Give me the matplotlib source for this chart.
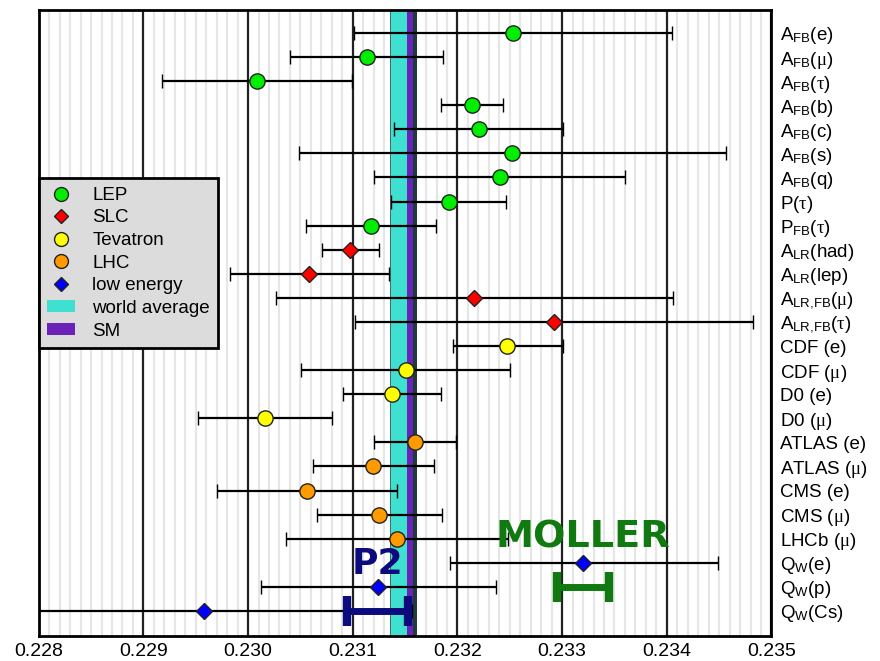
import matplotlib
matplotlib.use("Agg")
import matplotlib.pyplot as plt
from matplotlib.lines import Line2D
from matplotlib.patches import Patch
from matplotlib.ticker import MultipleLocator

plt.rcParams['font.family'] = ['Liberation Sans', 'DejaVu Sans']
plt.rcParams['mathtext.fontset'] = 'custom'
plt.rcParams['mathtext.rm'] = 'Liberation Sans'
plt.rcParams['mathtext.it'] = 'Liberation Serif'
plt.rcParams['mathtext.bf'] = 'Liberation Sans:bold'

# measurements of sin^2(theta_eff), top to bottom
labels = ['A$_{\\rm FB}$(e)', 'A$_{\\rm FB}$($\\mu$)', 'A$_{\\rm FB}$($\\tau$)',
          'A$_{\\rm FB}$(b)', 'A$_{\\rm FB}$(c)', 'A$_{\\rm FB}$(s)', 'A$_{\\rm FB}$(q)',
          'P($\\tau$)', 'P$_{\\rm FB}$($\\tau$)', 'A$_{\\rm LR}$(had)', 'A$_{\\rm LR}$(lep)',
          'A$_{\\rm LR{,}FB}$($\\mu$)', 'A$_{\\rm LR{,}FB}$($\\tau$)',
          'CDF (e)', 'CDF ($\\mu$)', 'D0 (e)', 'D0 ($\\mu$)',
          'ATLAS (e)', 'ATLAS ($\\mu$)', 'CMS (e)', 'CMS ($\\mu$)', 'LHCb ($\\mu$)',
          'Q$_{\\rm W}$(e)', 'Q$_{\\rm W}$(p)', 'Q$_{\\rm W}$(Cs)']
central = [0.232532, 0.231136, 0.230084, 0.232142, 0.232203, 0.232522, 0.232403,
           0.231923, 0.231174, 0.230976, 0.230584, 0.232162, 0.232920,
           0.232477, 0.231505, 0.231375, 0.230164,
           0.231595, 0.231193, 0.230565, 0.231253, 0.231425,
           0.233204, 0.231244, 0.229580]
low = [0.231011, 0.230402, 0.229176, 0.231846, 0.231390, 0.230486, 0.231203,
       0.231368, 0.230555, 0.230706, 0.229829, 0.230266, 0.231017,
       0.231954, 0.230505, 0.230906, 0.229526,
       0.231203, 0.230616, 0.229705, 0.230654, 0.230364,
       0.231932, 0.230125, 0.227591]
high = [0.234052, 0.231862, 0.230995, 0.232432, 0.233010, 0.234561, 0.233598,
        0.232467, 0.231795, 0.231247, 0.231349, 0.234057, 0.234822,
        0.233012, 0.232506, 0.231843, 0.230804,
        0.231990, 0.231772, 0.231423, 0.231853, 0.232487,
        0.234485, 0.232372, 0.231569]
group = ['LEP'] * 9 + ['SLC'] * 4 + ['Tevatron'] * 4 + ['LHC'] * 5 + ['low energy'] * 3

styles = {'LEP': ('o', '#00ee00'), 'SLC': ('D', '#ff0000'), 'Tevatron': ('o', '#ffff00'),
          'LHC': ('o', '#ff9a00'), 'low energy': ('D', '#0000ff')}

world_avg = (0.231358, 0.231516)
sm_band = (0.231516, 0.231578)
sm_edge = (0.231578, 0.231616)

# projected future measurements
p2_center, p2_err, p2_row = 0.23124, 0.000292, 24
moller_center, moller_err, moller_row = 0.233199, 0.000244, 23

fig = plt.figure(figsize=(8.8, 6.61), dpi=100)
ax = fig.add_axes([0.044, 0.0378, 0.8327, 0.9471])

ax.axvspan(*world_avg, color='#40e0d0', ec='#2a5a5a', lw=0.6, zorder=1)
ax.axvspan(*sm_band, color='#6b22b8', lw=0, zorder=1)
ax.axvspan(*sm_edge, color='#1c3c3c', lw=0, zorder=1)

for i in range(len(labels)):
    m, c = styles[group[i]]
    ms = 8 if m == 'D' else 11
    ax.errorbar(central[i], i, xerr=[[central[i] - low[i]], [high[i] - central[i]]],
                fmt=m, color=c, mec='#222222', mew=1, ms=ms,
                ecolor='black', elinewidth=1.6, capsize=4.7, capthick=2, zorder=3)

ax.errorbar(p2_center, p2_row, xerr=p2_err, fmt='none', ecolor='#0b0b7d',
            elinewidth=5, capsize=11, capthick=6, zorder=4)
ax.errorbar(moller_center, moller_row, xerr=moller_err, fmt='none', ecolor='#107a10',
            elinewidth=5, capsize=11, capthick=6, zorder=4)
ax.text(p2_center, 22.05, 'P2', color='#0b0b7d', fontsize=26, fontweight='bold',
        family='DejaVu Sans', ha='center', va='center', zorder=5)
ax.text(moller_center, 20.95, 'MOLLER', color='#107a10', fontsize=27.5, fontweight='bold',
        family='DejaVu Sans', ha='center', va='center', zorder=5)

ax.set_xlim(0.228, 0.235)
ax.set_ylim(25.04, -0.955)
ax.xaxis.set_major_locator(MultipleLocator(0.001))
ax.xaxis.set_minor_locator(MultipleLocator(0.0001))
ax.set_xticklabels(['%.3f' % v for v in ax.get_xticks()])
ax.set_yticks(range(len(labels)))
ax.set_yticklabels(labels)
ax.yaxis.tick_right()
ax.tick_params(axis='x', which='both', length=0, labelsize=14, pad=5)
ax.tick_params(axis='y', length=0, labelsize=13.5, pad=6)
ax.set_axisbelow(True)
ax.grid(axis='x', which='minor', color='#e6e6e6', lw=1.5)
ax.grid(axis='x', which='major', color='#222222', lw=1.6)
for s in ax.spines.values():
    s.set_linewidth(2)

handles = [Line2D([], [], ls='none', marker=styles[g][0], mfc=styles[g][1], mec='#222222',
                  ms=7.5 if styles[g][0] == 'D' else 10, label=g)
           for g in ['LEP', 'SLC', 'Tevatron', 'LHC', 'low energy']]
handles += [Patch(fc='#40e0d0', label='world average'), Patch(fc='#6b22b8', label='SM')]
leg = ax.legend(handles=handles, loc='upper left', bbox_to_anchor=(0, 0.731),
                borderaxespad=0, fontsize=13.5, labelspacing=0.3, handlelength=1.5,
                handleheight=0.6, handletextpad=0.9, borderpad=0.45, fancybox=False,
                framealpha=1, facecolor='#dcdcdc', edgecolor='black')
leg.get_frame().set_linewidth(2)
leg.set_zorder(6)

plt.savefig('out.png')
